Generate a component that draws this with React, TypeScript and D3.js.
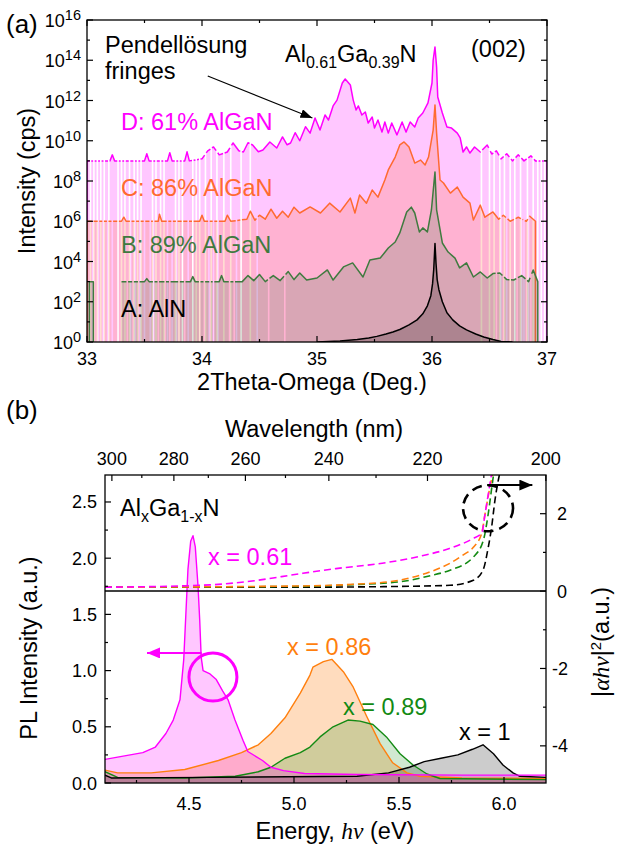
import React, { useEffect, useRef } from "react";
import * as d3 from "d3";

type Pt = [number, number | null];

// ---- (a) XRD 2theta-omega scans: [2theta (deg), log10(cps)] ----
const scanD: Pt[] = [
  [33.0, 0], [33.0, 9.0], [33.2, 9.0], [33.22, 9.3], [33.24, 9.0], [33.5, 9.0], [33.52, 9.35], [33.54, 9.0],
  [33.7, 9.0], [33.72, 9.4], [33.74, 9.0], [33.85, 9.0], [33.87, 9.45], [33.89, 9.0], [34.0, 9.1], [34.05, 9.5],
  [34.1, 9.69], [34.15, 9.3], [34.22, 9.44], [34.27, 9.89], [34.32, 9.5], [34.36, 9.44], [34.4, 9.9], [34.44, 9.79],
  [34.49, 9.45], [34.53, 9.54], [34.59, 9.94], [34.65, 9.64], [34.7, 10.19], [34.74, 9.8], [34.77, 9.89], [34.81, 10.4],
  [34.85, 10.0], [34.9, 10.7], [34.94, 10.38], [34.983, 11.13], [35.026, 10.53], [35.07, 11.28], [35.1, 11.03],
  [35.14, 11.73], [35.174, 12.02], [35.22, 12.87], [35.245, 13.07], [35.29, 12.77], [35.315, 12.02], [35.34, 11.53],
  [35.36, 11.73], [35.39, 11.28], [35.42, 11.43], [35.445, 10.88], [35.48, 11.18], [35.5, 10.63], [35.53, 11.03],
  [35.565, 10.43], [35.59, 10.93], [35.62, 10.38], [35.65, 10.88], [35.695, 10.29], [35.74, 10.93], [35.774, 10.43],
  [35.81, 10.93], [35.85, 10.68], [35.88, 11.13], [35.92, 11.38], [35.965, 11.88], [36.0, 12.87], [36.01, 14.0],
  [36.026, 14.66], [36.04, 13.66], [36.05, 12.17], [36.09, 11.38], [36.13, 10.68], [36.17, 10.63], [36.22, 10.38],
  [36.245, 10.14], [36.27, 9.44], [36.3, 9.69], [36.33, 9.39], [36.37, 9.69], [36.42, 9.44], [36.48, 9.79],
  [36.52, 9.34], [36.56, 9.5], [36.6, 9.1], [36.65, 9.35], [36.7, 9.0], [36.75, 9.3], [36.8, 9.0], [36.86, 9.25],
  [36.9, 9.0], [37.0, 9.0], [37.0, 0],
];
const scanC: Pt[] = [
  [33.0, 0], [33.0, 6.0], [33.3, 6.0], [33.32, 6.2], [33.34, 6.0], [33.62, 6.0], [33.63, 6.35], [33.65, 6.0],
  [33.98, 6.0], [34.0, 6.3], [34.02, 6.0], [34.2, 6.0], [34.22, 6.3], [34.25, 6.0], [34.39, 6.1], [34.42, 6.5],
  [34.46, 6.05], [34.5, 6.3], [34.55, 6.1], [34.6, 6.6], [34.65, 6.15], [34.7, 6.5], [34.75, 6.2], [34.8, 6.7],
  [34.85, 6.41], [34.94, 6.71], [35.03, 6.41], [35.11, 6.9], [35.2, 6.46], [35.29, 7.15], [35.33, 6.41], [35.37, 7.3],
  [35.43, 6.9], [35.48, 7.55], [35.53, 7.2], [35.59, 8.05], [35.62, 8.55], [35.68, 9.19], [35.72, 9.79],
  [35.757, 9.94], [35.8, 9.69], [35.85, 8.89], [35.9, 9.04], [35.94, 8.8], [35.97, 9.19], [36.01, 10.53],
  [36.026, 11.78], [36.04, 10.38], [36.07, 8.05], [36.1, 7.9], [36.16, 7.4], [36.22, 7.7], [36.27, 7.2],
  [36.33, 6.9], [36.36, 6.06], [36.42, 6.8], [36.46, 6.2], [36.53, 6.46], [36.58, 6.1], [36.62, 6.3], [36.68, 6.0],
  [36.75, 6.2], [36.82, 6.0], [36.85, 6.25], [36.9, 6.0], [36.9, 0],
];
const scanB: Pt[] = [
  [33.02, 0], [33.02, 3.0], [33.055, 3.0], [33.055, 0], [33.2, null], [33.3, 3.0], [33.5, 3.0], [33.52, 3.15],
  [33.54, 3.0], [33.9, 3.0], [33.92, 3.25], [33.94, 3.0], [34.15, 3.0], [34.17, 3.3], [34.19, 3.0], [34.35, 3.0],
  [34.4, 3.3], [34.45, 3.05], [34.5, 3.35], [34.55, 3.0], [34.62, 3.3], [34.68, 3.05], [34.75, 3.5], [34.8, 3.1],
  [34.85, 3.43], [34.91, 3.08], [35.0, 3.18], [35.09, 3.58], [35.14, 3.08], [35.23, 3.73], [35.31, 3.93],
  [35.4, 3.23], [35.46, 4.07], [35.55, 4.17], [35.62, 4.67], [35.68, 4.97], [35.72, 5.42], [35.78, 6.46],
  [35.82, 6.7], [35.85, 6.41], [35.89, 5.47], [35.92, 5.67], [35.96, 5.47], [35.995, 6.56], [36.026, 8.45],
  [36.04, 6.56], [36.09, 4.92], [36.14, 4.47], [36.2, 4.17], [36.24, 3.68], [36.3, 3.93], [36.36, 3.23],
  [36.42, 3.48], [36.48, 3.18], [36.53, 3.4], [36.59, 3.43], [36.65, 3.1], [36.71, 3.08], [36.78, 3.3],
  [36.84, 3.0], [36.88, 3.58], [36.92, 3.0], [36.92, 0],
];
const scanA: Pt[] = [
  [35.0, 0], [35.2, 0.05], [35.35, 0.12], [35.45, 0.2], [35.52, 0.28], [35.6, 0.4], [35.66, 0.5], [35.72, 0.62],
  [35.8, 0.85], [35.87, 1.1], [35.92, 1.4], [35.96, 1.8], [35.99, 2.3], [36.005, 2.9], [36.015, 3.6], [36.026, 4.9],
  [36.035, 3.9], [36.045, 3.1], [36.06, 2.6], [36.09, 2.0], [36.13, 1.45], [36.18, 1.1], [36.24, 0.8], [36.3, 0.6],
  [36.38, 0.4], [36.45, 0.25], [36.53, 0.12], [36.6, 0.03], [36.7, 0],
];

// 2theta positions where the counter reads zero (no fill, broken line)
const gapsD = [33.03, 33.06, 33.09, 33.12, 33.15, 33.19, 33.27, 33.3, 33.33, 33.37, 33.41, 33.44, 33.47, 33.57,
  33.6, 33.64, 33.67, 33.77, 33.8, 33.83, 33.92, 33.95, 33.98, 34.03, 34.08, 34.13, 34.19, 34.25, 34.34, 34.42,
  36.43, 36.5, 36.54, 36.59, 36.63, 36.68, 36.72, 36.77, 36.83, 36.88, 36.92, 36.95, 36.98];
const gapsC = [33.05, 33.1, 33.14, 33.18, 33.22, 33.27, 33.38, 33.42, 33.46, 33.5, 33.55, 33.58, 33.7, 33.74,
  33.78, 33.83, 33.88, 33.92, 34.06, 34.1, 34.14, 34.3, 34.34, 34.48, 36.6, 36.65, 36.72, 36.78, 36.8, 36.84];
const gapsB = [33.35, 33.4, 33.45, 33.58, 33.62, 33.68, 33.72, 33.8, 33.85, 33.98, 34.02, 34.07, 34.1, 34.24,
  34.28, 34.58, 34.72, 36.56, 36.62, 36.68, 36.74, 36.82, 36.86];

const xrdMajor = [33, 34, 35, 36, 37];
const xrdMinor = [33.5, 34.5, 35.5, 36.5];
const decades = [0, 2, 4, 6, 8, 10, 12, 14, 16];
const oddDecades = [1, 3, 5, 7, 9, 11, 13, 15];

// ---- (b) PL spectra: [energy (eV), PL intensity (a.u.)] ----
const pl061: Pt[] = [
  [4.1, 0.21], [4.16, 0.23], [4.28, 0.27], [4.34, 0.32], [4.39, 0.44], [4.425, 0.56], [4.457, 0.74], [4.475, 1.1],
  [4.485, 1.5], [4.495, 1.9], [4.508, 2.15], [4.519, 2.2], [4.53, 2.1], [4.543, 1.75], [4.551, 1.45], [4.558, 1.12],
  [4.567, 1.0], [4.6, 0.97], [4.63, 0.92], [4.66, 0.82], [4.686, 0.74], [4.719, 0.56], [4.757, 0.38], [4.78, 0.28],
  [4.85, 0.2], [4.89, 0.14], [4.95, 0.11], [5.05, 0.085], [5.3, 0.075], [5.8, 0.07], [6.2, 0.07],
];
const pl086: Pt[] = [
  [4.1, 0.115], [4.16, 0.09], [4.32, 0.09], [4.48, 0.12], [4.64, 0.2], [4.75, 0.27], [4.83, 0.34], [4.89, 0.44],
  [4.957, 0.58], [5.03, 0.8], [5.076, 0.96], [5.09, 1.03], [5.14, 1.08], [5.18, 1.1], [5.235, 0.99], [5.28, 0.86],
  [5.347, 0.59], [5.41, 0.35], [5.47, 0.18], [5.538, 0.09], [5.6, 0.06], [5.8, 0.045], [6.2, 0.04],
];
const pl089: Pt[] = [
  [4.1, 0.1], [4.16, 0.05], [4.48, 0.045], [4.72, 0.06], [4.83, 0.1], [4.89, 0.14], [4.957, 0.22], [5.03, 0.27],
  [5.076, 0.32], [5.124, 0.41], [5.186, 0.5], [5.257, 0.56], [5.314, 0.55], [5.376, 0.52], [5.44, 0.41],
  [5.505, 0.26], [5.567, 0.16], [5.633, 0.08], [5.695, 0.04], [6.2, 0.03],
];
const pl100: Pt[] = [
  [4.1, 0.07], [4.13, 0.045], [4.6, 0.05], [5.3, 0.06], [5.45, 0.09], [5.55, 0.14], [5.62, 0.19], [5.7, 0.22],
  [5.78, 0.25], [5.85, 0.3], [5.9, 0.34], [5.95, 0.26], [5.995, 0.16], [6.043, 0.09], [6.076, 0.06], [6.2, 0.05],
];

// absorption |a h nu|^2 (right axis): [energy (eV), a.u.]
const abs061: Pt[] = [
  [4.1, 0.1], [4.6, 0.16], [4.8, 0.26], [5.03, 0.45], [5.2, 0.58], [5.42, 0.72], [5.6, 0.9], [5.74, 1.1],
  [5.85, 1.35], [5.894, 1.5], [5.91, 2.0], [5.925, 2.5], [5.94, 3.0],
];
const abs086: Pt[] = [
  [4.1, 0.1], [5.0, 0.13], [5.3, 0.18], [5.5, 0.28], [5.65, 0.5], [5.743, 0.72], [5.81, 0.95], [5.854, 1.13],
  [5.894, 1.5], [5.91, 2.0], [5.93, 2.6], [5.945, 3.0],
];
const abs089: Pt[] = [
  [4.1, 0.1], [5.0, 0.12], [5.3, 0.17], [5.505, 0.24], [5.65, 0.4], [5.743, 0.54], [5.854, 0.88], [5.902, 1.32],
  [5.925, 2.0], [5.94, 2.6], [5.95, 3.0],
];
const abs100: Pt[] = [
  [4.1, 0.1], [5.0, 0.1], [5.5, 0.12], [5.743, 0.15], [5.854, 0.28], [5.9, 0.54], [5.925, 1.13], [5.941, 1.65],
  [5.957, 2.35], [5.973, 2.87], [5.978, 3.0],
];

const energyMajor = [4.5, 5.0, 5.5, 6.0];
const energyMinor = [4.25, 4.75, 5.25, 5.75];
const plMajor = [0, 0.5, 1.0, 1.5, 2.0, 2.5];
const plMinor = [0.25, 0.75, 1.25, 1.75, 2.25];
const absMajor = [-4, -2, 0, 2];
const absMinor = [-3, -1, 1];
const waveMajor = [300, 280, 260, 240, 220, 200];
const waveMinor = [290, 270, 250, 230, 210];

const MAGENTA = "#ff00ff";
const ORANGE_A = "#ff6a30";
const GREEN_A = "#3f7a3f";
const ORANGE_B = "#ff7f0e";
const GREEN_B = "#138a13";
const FONT = "'Liberation Sans', Arial, sans-serif";
const BIG = 23.5; // annotation / title size
const SUB = 16;

// insert zero-count points so the fill and the line break there
function withGaps(pts: Pt[], gaps: number[], half = 0.007): Pt[] {
  const valAt = (x: number) => {
    for (let i = 0; i < pts.length - 1; i++) {
      const [x0, y0] = pts[i];
      const [x1, y1] = pts[i + 1];
      if (y0 == null || y1 == null || x1 <= x0) continue;
      if (x >= x0 && x <= x1) return y0 + ((y1 - y0) * (x - x0)) / (x1 - x0);
    }
    return null;
  };
  const out: Pt[] = pts.slice();
  gaps.forEach((g) => {
    const a = valAt(g - half);
    const b = valAt(g + half);
    if (a == null || b == null) return;
    out.push([g - half, a], [g, null], [g + half, b]);
  });
  return out.sort((p, q) => p[0] - q[0]);
}

function ticks(g: any, values: number[], pos: (v: number) => number, orient: string, len: number, edge: number) {
  values.forEach((v) => {
    const p = pos(v);
    const l = g.append("line").attr("stroke", "#000").attr("stroke-width", 1.2);
    if (orient === "bottom") l.attr("x1", p).attr("x2", p).attr("y1", edge).attr("y2", edge - len);
    if (orient === "top") l.attr("x1", p).attr("x2", p).attr("y1", edge).attr("y2", edge + len);
    if (orient === "left") l.attr("y1", p).attr("y2", p).attr("x1", edge).attr("x2", edge + len);
    if (orient === "right") l.attr("y1", p).attr("y2", p).attr("x1", edge).attr("x2", edge - len);
  });
}

function App() {
  const ref = useRef<SVGSVGElement>(null);

  useEffect(() => {
    const svg = d3.select(ref.current);
    svg.selectAll("*").remove();

    const defs = svg.append("defs");
    const marker = (id: string, color: string, w: number, h: number) =>
      defs
        .append("marker")
        .attr("id", id)
        .attr("markerUnits", "userSpaceOnUse")
        .attr("markerWidth", w)
        .attr("markerHeight", h)
        .attr("refX", w)
        .attr("refY", h / 2)
        .attr("orient", "auto")
        .append("path")
        .attr("d", `M0,0 L${w},${h / 2} L0,${h} Z`)
        .attr("fill", color);
    marker("headA", "#000", 12, 9);
    marker("headMag", MAGENTA, 13, 11);
    marker("headBlk", "#000", 13, 11);

    // ================= panel (a) =================
    const ax = { l: 87, r: 547, t: 20, b: 342 };
    const x = d3.scaleLinear().domain([33, 37]).range([ax.l, ax.r]);
    const y = d3.scaleLog().domain([1, 1e16]).range([ax.b, ax.t]);
    const yv = (v: number) => y(Math.pow(10, v));

    defs.append("clipPath").attr("id", "clipA").append("rect")
      .attr("x", ax.l).attr("y", ax.t).attr("width", ax.r - ax.l).attr("height", ax.b - ax.t);

    const gA = svg.append("g").attr("clip-path", "url(#clipA)");
    const area = d3.area<Pt>()
      .defined((d) => d[1] !== null)
      .x((d) => x(d[0]))
      .y0(y(1))
      .y1((d) => yv(d[1] as number));
    const line = d3.line<Pt>()
      .defined((d) => d[1] !== null)
      .x((d) => x(d[0]))
      .y((d) => yv(d[1] as number));

    const xrd = [
      { data: withGaps(scanD, gapsD), color: MAGENTA, op: 0.22 },
      { data: withGaps(scanC, gapsC), color: ORANGE_A, op: 0.22 },
      { data: withGaps(scanB, gapsB), color: GREEN_A, op: 0.2 },
      { data: scanA, color: "#000", op: 0.2 },
    ];
    xrd.forEach((s) => {
      gA.append("path").attr("d", area(s.data)).attr("fill", s.color).attr("fill-opacity", s.op);
      gA.append("path").attr("d", line(s.data)).attr("fill", "none").attr("stroke", s.color)
        .attr("stroke-width", 1.5).attr("stroke-linejoin", "round");
    });

    const axA = svg.append("g");
    axA.append("rect").attr("x", ax.l).attr("y", ax.t).attr("width", ax.r - ax.l).attr("height", ax.b - ax.t)
      .attr("fill", "none").attr("stroke", "#000").attr("stroke-width", 1.3);
    ticks(axA, xrdMajor, x, "bottom", 6, ax.b);
    ticks(axA, xrdMinor, x, "bottom", 3, ax.b);
    ticks(axA, xrdMajor, x, "top", 6, ax.t);
    ticks(axA, xrdMinor, x, "top", 3, ax.t);
    ticks(axA, decades, yv, "left", 6, ax.l);
    ticks(axA, oddDecades, yv, "left", 3, ax.l);
    ticks(axA, decades, yv, "right", 6, ax.r);
    ticks(axA, oddDecades, yv, "right", 3, ax.r);

    xrdMajor.forEach((v) => {
      axA.append("text").attr("x", x(v)).attr("y", 365).attr("text-anchor", "middle")
        .attr("font-size", 18).text(d3.format("d")(v));
    });
    decades.forEach((v) => {
      const t = axA.append("text").attr("x", 81).attr("y", yv(v) + 7).attr("text-anchor", "end").attr("font-size", 18);
      t.append("tspan").text("10");
      t.append("tspan").attr("dy", -7).attr("font-size", 14.5).text(String(v));
    });
    axA.append("text").attr("x", 312).attr("y", 390).attr("text-anchor", "middle").attr("font-size", BIG)
      .text("2Theta-Omega (Deg.)");
    axA.append("text").attr("transform", `translate(35,${(ax.t + ax.b) / 2}) rotate(-90)`)
      .attr("text-anchor", "middle").attr("font-size", BIG).text("Intensity (cps)");

    // annotations (a)
    axA.append("text").attr("x", 6).attr("y", 33).attr("font-size", 26).text("(a)");
    axA.append("text").attr("x", 105).attr("y", 53).attr("font-size", BIG).text("Pendellösung");
    axA.append("text").attr("x", 105).attr("y", 79).attr("font-size", BIG).text("fringes");
    axA.append("line")
      .attr("x1", x(34.05)).attr("y1", yv(13.22)).attr("x2", x(34.96)).attr("y2", yv(11.13))
      .attr("stroke", "#000").attr("stroke-width", 1.2).attr("marker-end", "url(#headA)");
    const comp = axA.append("text").attr("x", 285).attr("y", 62).attr("font-size", BIG);
    comp.append("tspan").text("Al");
    comp.append("tspan").attr("dy", 6).attr("font-size", SUB).text("0.61");
    comp.append("tspan").attr("dy", -6).text("Ga");
    comp.append("tspan").attr("dy", 6).attr("font-size", SUB).text("0.39");
    comp.append("tspan").attr("dy", -6).text("N");
    axA.append("text").attr("x", 471).attr("y", 57).attr("font-size", BIG).text("(002)");
    [
      { t: "D: 61% AlGaN", y: 130, c: MAGENTA },
      { t: "C: 86% AlGaN", y: 196, c: ORANGE_A },
      { t: "B: 89% AlGaN", y: 253, c: GREEN_A },
      { t: "A: AlN", y: 317, c: "#000" },
    ].forEach((d) => {
      axA.append("text").attr("x", 121).attr("y", d.y).attr("font-size", BIG).attr("fill", d.c).text(d.t);
    });

    // ================= panel (b) =================
    const bx = { l: 105, r: 546, t: 475, b: 783 };
    const xe = d3.scaleLinear().domain([4.1, 6.2]).range([bx.l, bx.r]);
    const ypl = d3.scaleLinear().domain([0, 2.74]).range([bx.b, bx.t]);
    const yab = d3.scaleLinear().domain([-4.96, 3.0]).range([bx.b, bx.t]);
    const nm = (w: number) => xe(1239.84 / w);

    defs.append("clipPath").attr("id", "clipB").append("rect")
      .attr("x", bx.l).attr("y", bx.t).attr("width", bx.r - bx.l).attr("height", bx.b - bx.t);
    const gB = svg.append("g").attr("clip-path", "url(#clipB)");

    const plArea = d3.area<Pt>().x((d) => xe(d[0])).y0(ypl(0)).y1((d) => ypl(d[1] as number));
    const plLine = d3.line<Pt>().x((d) => xe(d[0])).y((d) => ypl(d[1] as number));
    const pls = [
      { data: pl086, color: ORANGE_B, op: 0.27 },
      { data: pl089, color: GREEN_B, op: 0.2 },
      { data: pl100, color: "#000", op: 0.2 },
      { data: pl061, color: MAGENTA, op: 0.22 },
    ];
    pls.forEach((s) => {
      gB.append("path").attr("d", plArea(s.data)).attr("fill", s.color).attr("fill-opacity", s.op);
    });
    pls.forEach((s) => {
      gB.append("path").attr("d", plLine(s.data)).attr("fill", "none").attr("stroke", s.color)
        .attr("stroke-width", 1.4).attr("stroke-linejoin", "round");
    });

    // zero line of the absorption axis
    gB.append("line").attr("x1", bx.l).attr("x2", bx.r).attr("y1", yab(0)).attr("y2", yab(0))
      .attr("stroke", "#000").attr("stroke-width", 1.5);

    const absLine = d3.line<Pt>().x((d) => xe(d[0])).y((d) => yab(d[1] as number)).curve(d3.curveMonotoneX);
    [
      { data: abs100, color: "#000" },
      { data: abs089, color: GREEN_B },
      { data: abs086, color: ORANGE_B },
      { data: abs061, color: MAGENTA },
    ].forEach((s) => {
      gB.append("path").attr("d", absLine(s.data)).attr("fill", "none").attr("stroke", s.color)
        .attr("stroke-width", 1.6).attr("stroke-dasharray", "7,4");
    });

    const axB = svg.append("g");
    axB.append("rect").attr("x", bx.l).attr("y", bx.t).attr("width", bx.r - bx.l).attr("height", bx.b - bx.t)
      .attr("fill", "none").attr("stroke", "#000").attr("stroke-width", 1.3);
    ticks(axB, energyMajor, xe, "bottom", 6, bx.b);
    ticks(axB, energyMinor, xe, "bottom", 3, bx.b);
    ticks(axB, waveMajor, nm, "top", 6, bx.t);
    ticks(axB, waveMinor, nm, "top", 3, bx.t);
    ticks(axB, plMajor, ypl, "left", 6, bx.l);
    ticks(axB, plMinor, ypl, "left", 3, bx.l);
    ticks(axB, absMajor, yab, "right", 6, bx.r);
    ticks(axB, absMinor, yab, "right", 3, bx.r);

    energyMajor.forEach((v) => {
      axB.append("text").attr("x", xe(v)).attr("y", 810).attr("text-anchor", "middle").attr("font-size", 18)
        .text(d3.format(".1f")(v));
    });
    waveMajor.forEach((v) => {
      axB.append("text").attr("x", nm(v)).attr("y", 465).attr("text-anchor", "middle").attr("font-size", 18)
        .text(String(v));
    });
    plMajor.forEach((v) => {
      axB.append("text").attr("x", 97).attr("y", ypl(v) + 6.5).attr("text-anchor", "end").attr("font-size", 18)
        .text(d3.format(".1f")(v));
    });
    absMajor.forEach((v) => {
      axB.append("text").attr("x", v < 0 ? 552 : 557).attr("y", yab(v) + 6.5).attr("font-size", 18)
        .text(v < 0 ? "-" + Math.abs(v) : String(v));
    });

    axB.append("text").attr("x", 314).attr("y", 437).attr("text-anchor", "middle").attr("font-size", BIG)
      .text("Wavelength (nm)");
    const eLab = axB.append("text").attr("x", 335).attr("y", 839).attr("text-anchor", "middle").attr("font-size", BIG);
    eLab.append("tspan").text("Energy, ");
    eLab.append("tspan").attr("font-family", "'Liberation Serif', serif").attr("font-style", "italic").text("hν");
    eLab.append("tspan").text(" (eV)");
    axB.append("text").attr("transform", `translate(37,648) rotate(-90)`).attr("text-anchor", "middle")
      .attr("font-size", BIG).text("PL Intensity (a.u.)");
    const rLab = axB.append("text").attr("transform", `translate(609,642) rotate(-90)`)
      .attr("text-anchor", "middle").attr("font-size", BIG);
    rLab.append("tspan").text("|");
    rLab.append("tspan").attr("font-family", "'Liberation Serif', serif").attr("font-style", "italic").text("αhν");
    rLab.append("tspan").text("|");
    rLab.append("tspan").attr("dy", -8).attr("font-size", 15).text("2");
    rLab.append("tspan").attr("dy", 8).text("(a.u.)");

    // annotations (b)
    axB.append("text").attr("x", 6).attr("y", 419).attr("font-size", 26).text("(b)");
    const alx = axB.append("text").attr("x", 120).attr("y", 516).attr("font-size", BIG);
    alx.append("tspan").text("Al");
    alx.append("tspan").attr("dy", 6).attr("font-size", SUB).text("x");
    alx.append("tspan").attr("dy", -6).text("Ga");
    alx.append("tspan").attr("dy", 6).attr("font-size", SUB).text("1-x");
    alx.append("tspan").attr("dy", -6).text("N");
    [
      { t: "x = 0.61", x: 208, y: 565, c: MAGENTA },
      { t: "x = 0.86", x: 287, y: 655, c: ORANGE_B },
      { t: "x = 0.89", x: 343, y: 715, c: GREEN_B },
      { t: "x = 1", x: 459, y: 740, c: "#000" },
    ].forEach((d) => {
      axB.append("text").attr("x", d.x).attr("y", d.y).attr("font-size", BIG).attr("fill", d.c).text(d.t);
    });

    axB.append("circle").attr("cx", xe(4.614)).attr("cy", ypl(0.943)).attr("r", 24)
      .attr("fill", "none").attr("stroke", MAGENTA).attr("stroke-width", 3);
    axB.append("line").attr("x1", xe(4.56)).attr("y1", ypl(1.157)).attr("x2", xe(4.3)).attr("y2", ypl(1.157))
      .attr("stroke", MAGENTA).attr("stroke-width", 2).attr("marker-end", "url(#headMag)");
    axB.append("ellipse").attr("cx", xe(5.924)).attr("cy", yab(2.14)).attr("rx", 25).attr("ry", 23)
      .attr("fill", "none").attr("stroke", "#000").attr("stroke-width", 2.6).attr("stroke-dasharray", "10,6");
    axB.append("line").attr("x1", xe(5.92)).attr("y1", yab(2.74)).attr("x2", xe(6.135)).attr("y2", yab(2.74))
      .attr("stroke", "#000").attr("stroke-width", 2).attr("marker-end", "url(#headBlk)");
  }, []);

  return (
    <svg
      ref={ref}
      width={618}
      height={846}
      style={{ position: "absolute", left: 0, top: 0, background: "#fff", fontFamily: FONT }}
    />
  );
}

export default App;
